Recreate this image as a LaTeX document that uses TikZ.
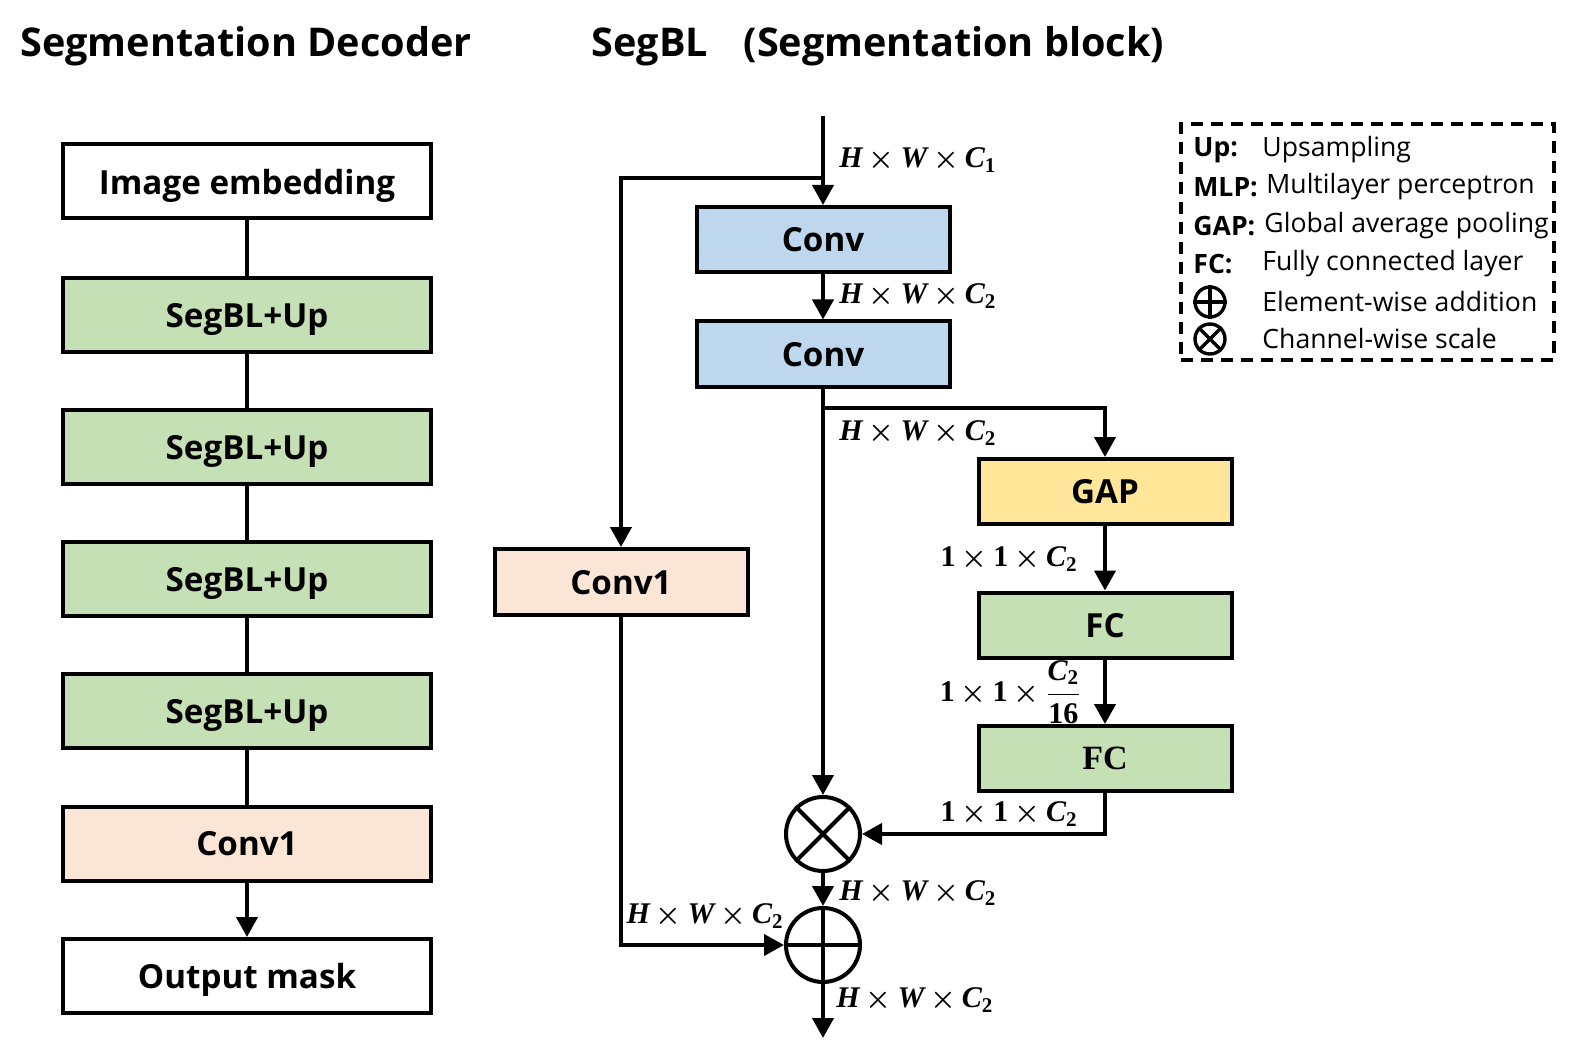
\documentclass[tikz,border=0pt]{standalone}
\usepackage{fontspec}
\setmainfont{Open Sans}
\newfontfamily\serifb{Liberation Serif}
\usetikzlibrary{arrows.meta,calc}
\definecolor{cblue}{HTML}{BDD7EE}
\definecolor{cgreen}{HTML}{C5E0B4}
\definecolor{cyellow}{HTML}{FFE699}
\definecolor{cpeach}{HTML}{FBE5D6}
\newcommand\vi[1]{{\itshape #1}}
\newcommand\tx{\hspace{0.2em}$\times$\hspace{0.2em}}
\begin{document}
\begin{tikzpicture}[x=0.5pt,y=-0.5pt,
  box/.style={draw,line width=2pt,font=\fontsize{16.6}{20}\selectfont\bfseries,inner sep=0pt,text depth=0pt},
  lbox/.style={box,minimum width=184pt,minimum height=37pt},
  rbox/.style={box,minimum width=126.5pt,minimum height=32.5pt},
  conn/.style={line width=2pt},
  arr/.style={conn,-{Triangle[length=10pt,width=10.5pt]}},
  opc/.style={draw,circle,line width=2pt,minimum size=37pt,inner sep=0pt},
  dim/.style={font=\fontsize{15}{17}\serifb\bfseries\boldmath,inner sep=0pt},
  leg/.style={font=\fontsize{13.3}{16}\selectfont,anchor=west,inner sep=0pt},
  legk/.style={leg,font=\fontsize{13.3}{16}\selectfont\bfseries},
  legc/.style={draw,circle,line width=1.7pt,minimum size=15pt,inner sep=0pt},
  ttl/.style={font=\fontsize{19.8}{23}\selectfont\bfseries,anchor=west,inner sep=0pt}]
\useasboundingbox (0,0) rectangle (1580,1064);
% titles
\node[ttl] (t1) at (20,46) {Segmentation Decoder};
\node[ttl] (t2) at (591,46) {SegBL\hspace{0.9em}(Segmentation block)};
% left column
\node[lbox] (ie) at (247,181.5) {Image embedding};
\node[lbox,fill=cgreen] (s1) at (247,315) {SegBL+Up};
\node[lbox,fill=cgreen] (s2) at (247,447) {SegBL+Up};
\node[lbox,fill=cgreen] (s3) at (247,579) {SegBL+Up};
\node[lbox,fill=cgreen] (s4) at (247,711) {SegBL+Up};
\node[lbox,fill=cpeach] (lc) at (247,843.5) {Conv1};
\node[lbox] (om) at (247,976) {Output mask};
\draw[conn] (ie) -- (s1);
\draw[conn] (s1) -- (s2);
\draw[conn] (s2) -- (s3);
\draw[conn] (s3) -- (s4);
\draw[conn] (s4) -- (lc);
\draw[arr] (lc) -- (om);
% right block
\node[rbox,fill=cblue] (c1) at (823,239.5) {Conv};
\node[rbox,fill=cblue] (c2) at (823,354) {Conv};
\node[rbox,fill=cyellow] (gap) at (1105,491.5) {GAP};
\node[rbox,fill=cgreen] (fc1) at (1105,625) {FC};
\node[rbox,fill=cgreen,font=\fontsize{17}{20}\serifb\bfseries] (fc2) at (1105,758.5) {FC};
\node[rbox,fill=cpeach,minimum height=33pt] (cv) at (621,582) {Conv1};
\node[opc] (ot) at (823,834) {};
\node[opc] (op) at (823,945) {};
\draw[conn] (ot.45) -- (ot.225) (ot.135) -- (ot.315);
\draw[conn] (op.north) -- (op.south) (op.west) -- (op.east);
\coordinate (in) at (823,116);
\coordinate (sp) at (823,178);
\coordinate (br) at (823,408);
\coordinate (out) at (823,1038);
\draw[arr] (in) -- (c1);
\draw[arr] (sp) -| (cv.north);
\draw[arr] (c1) -- (c2);
\draw[arr] (c2) -- (ot.north);
\draw[arr] (br) -| (gap.north);
\draw[arr] (gap) -- (fc1);
\draw[arr] (fc1) -- (fc2);
\draw[arr] (fc2.south) |- (ot.east);
\draw[arr] (ot) -- (op);
\draw[arr] (cv.south) |- (op.west);
\draw[arr] (op.south) -- (out);
% dimension labels
\node[dim,anchor=west] (d1) at (839,160) {\vi{H}\tx\vi{W}\tx\vi{C}\textsubscript{1}};
\node[dim,anchor=west] (d2) at (839,296) {\vi{H}\tx\vi{W}\tx\vi{C}\textsubscript{2}};
\node[dim,anchor=west] (d3) at (839,433) {\vi{H}\tx\vi{W}\tx\vi{C}\textsubscript{2}};
\node[dim,anchor=east] (d4) at (1078,559) {1\tx1\tx\vi{C}\textsubscript{2}};
\node[dim,anchor=east] (d5) at (1082,692) {1\tx1\tx$\displaystyle{\hbox{\vi{C}\textsubscript{2}}\above0.8pt\hbox{16}}$};
\node[dim,anchor=east] (d6) at (1078,814) {1\tx1\tx\vi{C}\textsubscript{2}};
\node[dim,anchor=west] (d7) at (839,893) {\vi{H}\tx\vi{W}\tx\vi{C}\textsubscript{2}};
\node[dim,anchor=east] (d8) at (784,916) {\vi{H}\tx\vi{W}\tx\vi{C}\textsubscript{2}};
\node[dim,anchor=west] (d9) at (836,1000) {\vi{H}\tx\vi{W}\tx\vi{C}\textsubscript{2}};
% legend
\node[draw,line width=2pt,dash pattern=on 6pt off 4pt,minimum width=186.5pt,minimum height=118pt,inner sep=0pt] (lg) at (1367.5,242) {};
\node[legk] (k1) at (1193,150) {Up:};
\node[leg] (v1) at (1262,150) {Upsampling};
\node[legk] (k2) at (1193,187) {MLP:};
\node[leg] (v2) at (1266,187) {Multilayer perceptron};
\node[legk] (k3) at (1193,226) {GAP:};
\node[leg] (v3) at (1264,226) {Global average pooling};
\node[legk] (k4) at (1193,264) {FC:};
\node[leg] (v4) at (1262,264) {Fully connected layer};
\node[legc] (k5) at (1210,302) {};
\draw[line width=1.7pt] (k5.north) -- (k5.south) (k5.west) -- (k5.east);
\node[leg] (v5) at (1262,302) {Element-wise addition};
\node[legc] (k6) at (1210,339) {};
\draw[line width=1.7pt] (k6.45) -- (k6.225) (k6.135) -- (k6.315);
\node[leg] (v6) at (1262,339) {Channel-wise scale};
\end{tikzpicture}
\end{document}
